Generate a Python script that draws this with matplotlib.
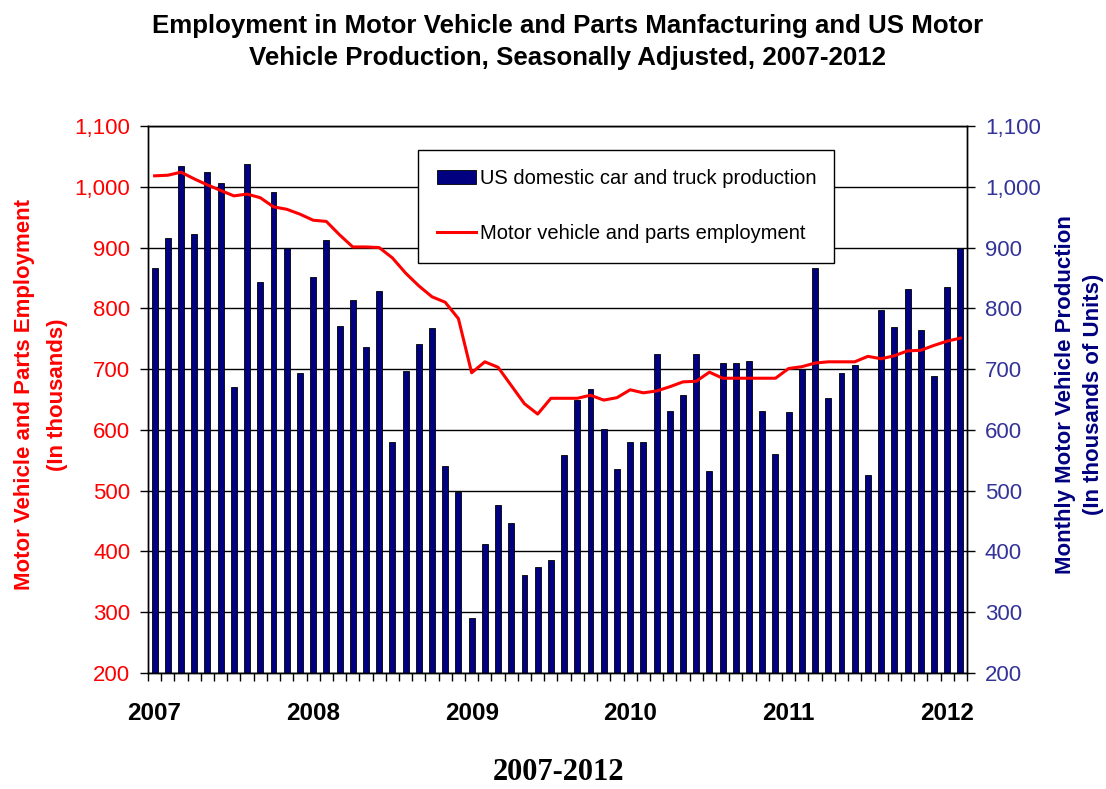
import numpy as np
import matplotlib
matplotlib.use("Agg")
import matplotlib.pyplot as plt
from matplotlib.ticker import FuncFormatter, FixedLocator
from matplotlib.patches import Patch
from matplotlib.lines import Line2D

plt.rcParams['font.family'] = ['Liberation Sans', 'DejaVu Sans']

# Monthly series, Jan 2007 - Feb 2012 (thousands)
years = ['2007', '2008', '2009', '2010', '2011', '2012']
production = [867, 916, 1035, 922, 1025, 1006, 670, 1038, 844, 992, 899, 694,
              851, 913, 771, 813, 737, 828, 580, 697, 742, 767, 541, 497,
              291, 413, 477, 446, 362, 374, 386, 558, 649, 667, 602, 535,
              580, 580, 725, 631, 658, 725, 532, 710, 710, 713, 631, 561,
              629, 700, 867, 652, 694, 706, 525, 798, 770, 832, 764, 688,
              835, 899]
employment = [1018, 1019, 1024, 1013, 1003, 994, 985, 988, 982, 967, 963, 955,
              945, 943, 921, 901, 901, 900, 883, 858, 837, 819, 810, 783,
              694, 712, 703, 673, 643, 626, 652, 652, 652, 657, 649, 653,
              666, 661, 664, 671, 679, 680, 695, 685, 685, 685, 685, 685,
              701, 704, 710, 712, 712, 712, 721, 717, 722, 730, 731, 739,
              746, 751]
y_ticks = list(range(200, 1101, 100))

W, H = 1106, 789
fig = plt.figure(figsize=(W / 100, H / 100), dpi=100)
fig.patch.set_facecolor('white')

ax = fig.add_axes([148 / W, 116 / H, 819 / W, 547 / H])
ax2 = ax.twinx()

# line axes in front of the bar axes
ax.set_zorder(ax2.get_zorder() + 1)
ax.patch.set_visible(False)
ax2.patch.set_facecolor('white')

x = np.arange(len(production))
ax2.bar(x, production, width=0.45, color='#000080', edgecolor='black',
        linewidth=0.6, zorder=2)
ax.plot(x, employment, color='red', lw=2.2, zorder=3)

for a in (ax, ax2):
    a.set_ylim(200, 1100)
    a.set_xlim(-0.5, len(production) - 0.5)
    a.yaxis.set_major_locator(FixedLocator(y_ticks))
    a.yaxis.set_major_formatter(FuncFormatter(lambda v, p: f"{int(v):,}"))
    for s in a.spines.values():
        s.set_color('black')
        s.set_linewidth(1.0)

ax2.yaxis.grid(True, color='black', lw=1.0)
ax2.set_axisbelow(True)

ax.tick_params(axis='y', direction='out', length=5.8, width=1, pad=7,
               labelsize=16, colors='black')
ax.tick_params(axis='y', labelcolor='red')
ax2.tick_params(axis='y', direction='out', length=5.8, width=1, pad=7,
                labelsize=16, labelcolor='#333399')

# year labels at January positions, month boundary ticks
ax.set_xticks([12 * i for i in range(len(years))])
ax.set_xticklabels(years, fontsize=17.5, fontweight='bold')
ax.set_xticks(np.arange(-0.5, len(production), 1), minor=True)
ax.tick_params(axis='x', which='major', length=0, pad=21)
ax.tick_params(axis='x', which='minor', direction='out', length=5.8, width=1)
ax2.tick_params(axis='x', which='both', length=0)

handles = [Patch(facecolor='#000080', edgecolor='black', linewidth=0.6),
           Line2D([], [], color='red', lw=2.2)]
labels = ['US domestic car and truck production',
          'Motor vehicle and parts employment']
leg = ax.legend(handles, labels, loc='upper left',
                bbox_to_anchor=(0.3297, 0.7587, 0.508, 0.1974), mode='expand',
                fontsize=14.5, frameon=True, fancybox=False, framealpha=1,
                edgecolor='black', borderpad=0.95, labelspacing=1.8,
                handlelength=1.93, handletextpad=0.2, borderaxespad=0)
leg.get_frame().set_linewidth(1.0)

fig.text(0.513, 1 - 26 / H,
         'Employment in Motor Vehicle and Parts Manfacturing and US Motor',
         ha='center', va='center', fontsize=18.6, fontweight='bold')
fig.text(0.513, 1 - 58 / H,
         'Vehicle Production, Seasonally Adjusted, 2007-2012',
         ha='center', va='center', fontsize=18.6, fontweight='bold')

fig.text(25 / W, 0.5, 'Motor Vehicle and Parts Employment', rotation=90,
         ha='center', va='center', fontsize=16, fontweight='bold', color='red')
fig.text(57 / W, 0.5, '(In thousands)', rotation=90,
         ha='center', va='center', fontsize=16, fontweight='bold', color='red')
fig.text(1065 / W, 0.5, 'Monthly Motor Vehicle Production', rotation=90,
         ha='center', va='center', fontsize=16, fontweight='bold',
         color='#000080')
fig.text(1094 / W, 0.5, '(In thousands of Units)', rotation=90,
         ha='center', va='center', fontsize=16, fontweight='bold',
         color='#000080')

fig.text(559 / W, 1 - 773 / H, '2007-2012', ha='center', va='center',
         fontsize=22, fontweight='bold', family='Liberation Serif')

fig.savefig('out.png', dpi=100, facecolor='white')
